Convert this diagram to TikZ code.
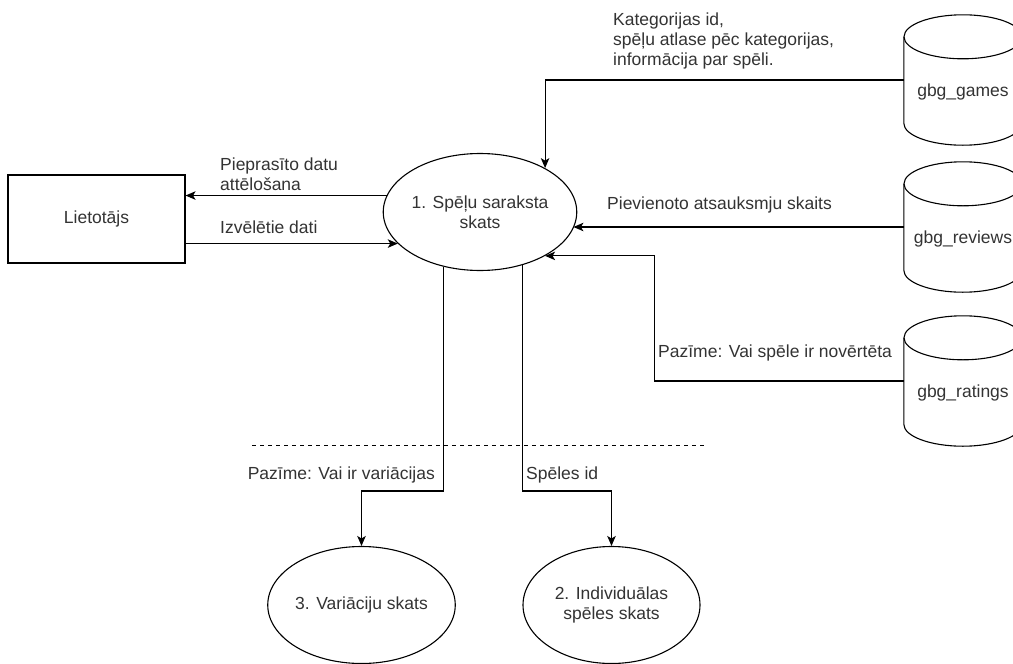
\documentclass[tikz,border=0pt]{standalone}
\usepackage{fontspec}
\setmainfont{Liberation Sans}
\usetikzlibrary{shapes.geometric, arrows.meta}

\begin{document}
\begin{tikzpicture}[x=1pt, y=-1pt,
  every node/.style={font=\fontsize{17.5}{20}\selectfont, text=black!80},
  line/.style={line width=1.1pt, draw=black},
  flow/.style={line, -{Stealth[length=10pt, width=8.5pt, inset=2.5pt]}},
  proc/.style={ellipse, draw=black, line width=1.1pt, minimum width=177pt,
    minimum height=117pt, inner sep=0pt, align=center},
  ext/.style={rectangle, draw=black, line width=1.1pt, minimum width=177pt,
    minimum height=88pt, inner sep=0pt},
  dbbody/.style={rectangle, minimum width=118pt, minimum height=130pt, inner sep=0pt},
  lbl/.style={inner sep=0pt, align=left},
]
\useasboundingbox (0,0) rectangle (1013,664);

% external entity and processes
\node[ext]  (user) at (96.5,219) {Lietotājs};
\node[proc] (main) at (480,212) {1. Spēļu saraksta\\skats};
\node[proc] (var)  at (361.5,605) {3. Variāciju skats};
\node[proc] (ind)  at (611.5,605) {2. Individuālas\\spēles skats};

% data stores drawn as cylinders around an invisible body node
\foreach \n/\y/\t in {games/80/gbg\_games, reviews/227/gbg\_reviews, ratings/381/gbg\_ratings}{
  \node[dbbody] (\n) at (963,\y) {};
  \draw[line] ([yshift=-22pt]\n.north west) -- ([yshift=22pt]\n.south west)
    arc[start angle=180, end angle=360, x radius=59pt, y radius=22pt]
    -- ([yshift=-22pt]\n.north east);
  \draw[line] ([yshift=-22pt]\n.north) ellipse[x radius=59pt, y radius=22pt];
  \node (\n-t) at ([yshift=-12pt]\n.center) {\t};
}

% flows between user and list view
\draw[flow] (main.170) -- (main.170 -| user.east);
\draw[flow] (user.east |- main.201) -- (main.201);
\node[lbl, anchor=west] (lreq) at (220,174) {Pieprasīto datu\\attēlošana};
\node[lbl, anchor=west] (lsel) at (220,227) {Izvēlētie dati};

% flows from the data stores
\draw[flow] (games.west) -| (main.34);
\node[lbl, anchor=west] (lgames) at (613,41)
  {Kategorijas id,\\spēļu atlase pēc kategorijas,\\informācija par spēli.};
\draw[flow] (reviews.west) -- (main.350 |- reviews.west);
\node[lbl, anchor=west] (lrev) at (607,205) {Pievienoto atsauksmju skaits};
\draw[flow] (ratings.west) -- ++(-249,0) |- (main.326);
\node[lbl, anchor=west] (lrat) at (658,353) {Pazīme: Vai spēle ir novērtēta};

% boundary and flows to the other views
\draw[line, line width=0.9pt, dash pattern=on 4pt off 4pt] (252,445) -- (705,445);
\coordinate (split) at (0,491);
\draw[flow] (main.236) -- (main.236 |- split) -| (var.north);
\draw[flow] (main.309) -- (main.309 |- split) -| (ind.north);
\node[lbl, anchor=east] (lvar) at (435,475) {Pazīme: Vai ir variācijas};
\node[lbl, anchor=west] (lind) at (526,475) {Spēles id};
\end{tikzpicture}
\end{document}
